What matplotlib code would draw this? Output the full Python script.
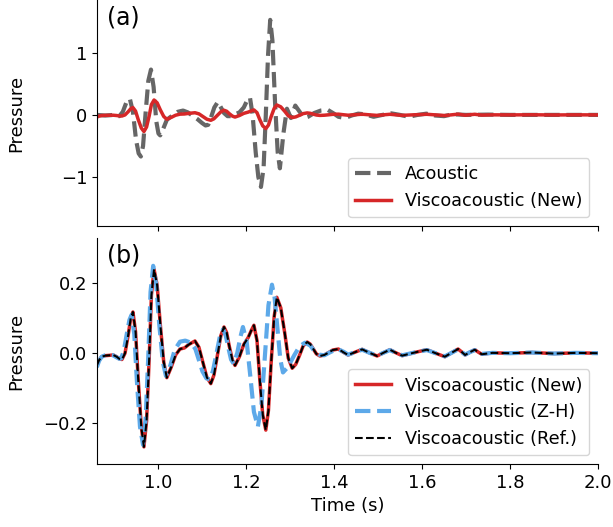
import matplotlib
matplotlib.use('Agg')
import matplotlib.pyplot as plt

plt.rcParams['font.family'] = 'DejaVu Sans'

# --- dados (tempo em s, pressão) ---
t_new = [0.861, 0.866, 0.872, 0.880, 0.890, 0.898, 0.906, 0.912, 0.918, 0.925,
         0.932, 0.938, 0.943, 0.949, 0.955, 0.962, 0.968, 0.974, 0.980, 0.985,
         0.991, 0.998, 1.005, 1.013, 1.020, 1.030, 1.040, 1.050, 1.060, 1.070,
         1.084, 1.093, 1.102, 1.111, 1.120, 1.127, 1.135, 1.143, 1.150, 1.156,
         1.162, 1.169, 1.175, 1.185, 1.195, 1.205, 1.212, 1.218, 1.225, 1.231,
         1.238, 1.245, 1.251, 1.257, 1.264, 1.270, 1.279, 1.288, 1.296, 1.305,
         1.313, 1.322, 1.330, 1.339, 1.346, 1.353, 1.360, 1.368, 1.378, 1.388,
         1.397, 1.410, 1.421, 1.432, 1.448, 1.464, 1.481, 1.498, 1.512, 1.527,
         1.541, 1.555, 1.583, 1.611, 1.631, 1.652, 1.667, 1.682, 1.690, 1.698,
         1.709, 1.720, 1.728, 1.736, 1.76, 1.80, 1.85, 1.90, 1.95, 2.00]
p_new = [-0.035, -0.020, -0.010, -0.007, -0.006, -0.005, -0.010, -0.016, -0.018, 0.000,
         0.050, 0.100, 0.118, 0.061, -0.075, -0.211, -0.268, -0.194, -0.014, 0.166,
         0.240, 0.195, 0.085, -0.025, -0.070, -0.040, -0.005, 0.012, 0.015, 0.025,
         0.035, 0.017, -0.026, -0.069, -0.087, -0.063, -0.006, 0.051, 0.075, 0.059,
         0.020, -0.019, -0.035, -0.010, 0.025, 0.045, 0.065, 0.080, 0.036, -0.070,
         -0.176, -0.220, -0.164, -0.030, 0.104, 0.160, 0.130, 0.058, -0.014, -0.043,
         -0.032, -0.005, 0.021, 0.032, 0.026, 0.012, -0.002, -0.008, -0.005, 0.002,
         0.009, 0.012, 0.003, -0.005, 0.003, 0.011, 0.001, -0.008, 0.001, 0.010,
         0.001, -0.007, 0.002, 0.010, 0.000, -0.010, 0.001, 0.012, 0.004, -0.005,
         0.003, 0.010, 0.003, -0.003, 0.001, 0.000, 0.002, -0.001, 0.001, 0.000]

t_zh = [0.861, 0.866, 0.872, 0.880, 0.890, 0.898, 0.906, 0.912, 0.916, 0.922,
        0.929, 0.935, 0.940, 0.946, 0.952, 0.959, 0.966, 0.972, 0.978, 0.983,
        0.989, 0.996, 1.003, 1.011, 1.018, 1.028, 1.038, 1.050, 1.062, 1.075,
        1.085, 1.093, 1.101, 1.110, 1.118, 1.125, 1.133, 1.141, 1.148, 1.154,
        1.160, 1.166, 1.172, 1.180, 1.187, 1.193, 1.2015, 1.210, 1.218, 1.227,
        1.235, 1.243, 1.251, 1.259, 1.265, 1.2715, 1.278, 1.284, 1.295, 1.310,
        1.322, 1.334, 1.346, 1.356, 1.366, 1.378, 1.390, 1.400, 1.412, 1.422,
        1.432, 1.448, 1.464, 1.481, 1.498, 1.512, 1.527, 1.541, 1.555, 1.583,
        1.611, 1.631, 1.652, 1.667, 1.682, 1.690, 1.698, 1.709, 1.720, 1.728,
        1.736, 1.76, 1.80, 1.85, 1.90, 1.95, 2.00]
p_zh = [-0.040, -0.022, -0.010, -0.006, -0.005, -0.006, -0.012, -0.016, -0.015, 0.005,
        0.055, 0.095, 0.110, 0.055, -0.080, -0.210, -0.262, -0.185, -0.005, 0.175,
        0.250, 0.195, 0.080, -0.025, -0.065, -0.035, 0.010, 0.033, 0.036, 0.030,
        0.012, -0.020, -0.052, -0.072, -0.075, -0.050, 0.000, 0.050, 0.068, 0.050,
        0.015, -0.018, -0.030, 0.000, 0.045, 0.075, 0.033, -0.068, -0.168, -0.210,
        -0.150, -0.007, 0.137, 0.196, 0.159, 0.070, -0.018, -0.055, -0.040, -0.005,
        0.020, 0.030, 0.022, 0.005, -0.004, -0.006, 0.002, 0.008, 0.010, 0.004,
        -0.004, 0.003, 0.010, 0.001, -0.007, 0.001, 0.009, 0.001, -0.006, 0.002,
        0.009, 0.000, -0.009, 0.001, 0.011, 0.004, -0.004, 0.003, 0.009, 0.003,
        -0.002, 0.001, 0.000, 0.002, -0.001, 0.001, 0.000]

# a solução de referência coincide com a nova
t_ref = list(t_new)
p_ref = list(p_new)

t_ac = [0.861, 0.880, 0.900, 0.912, 0.920, 0.928, 0.936, 0.943, 0.950, 0.956,
        0.961, 0.966, 0.972, 0.978, 0.984, 0.990, 0.996, 1.001, 1.005, 1.012,
        1.020, 1.027, 1.035, 1.045, 1.057, 1.068, 1.080, 1.090, 1.100, 1.108,
        1.114, 1.120, 1.128, 1.136, 1.143, 1.150, 1.158, 1.166, 1.175, 1.185,
        1.195, 1.203, 1.209, 1.215, 1.222, 1.228, 1.234, 1.240, 1.245, 1.250,
        1.255, 1.260, 1.266, 1.272, 1.277, 1.285, 1.293, 1.302, 1.312, 1.322,
        1.332, 1.341, 1.355, 1.370, 1.386, 1.400, 1.410, 1.425, 1.440, 1.455,
        1.470, 1.490, 1.510, 1.530, 1.550, 1.570, 1.590, 1.610, 1.630, 1.650,
        1.670, 1.700, 1.750, 1.800, 1.900, 2.000]
p_ac = [0.00, -0.01, 0.00, -0.02, 0.05, 0.20, 0.26, 0.05, -0.40, -0.62,
        -0.67, -0.50, 0.05, 0.55, 0.73, 0.45, -0.10, -0.30, -0.33, -0.22,
        -0.08, -0.04, 0.00, 0.05, 0.07, 0.04, -0.02, -0.07, -0.13, -0.17,
        -0.16, -0.05, 0.12, 0.21, 0.12, 0.03, -0.02, -0.02, 0.01, 0.04,
        0.12, 0.24, 0.28, 0.00, -0.60, -1.00, -1.16, -0.85, 0.00, 0.95,
        1.53, 1.20, 0.20, -0.60, -0.86, -0.30, 0.10, -0.05, 0.15, 0.05,
        -0.05, -0.03, 0.03, 0.07, 0.08, 0.02, -0.03, -0.05, -0.01, 0.02,
        0.01, -0.03, 0.00, 0.025, 0.00, -0.03, 0.00, 0.02, -0.01, -0.02,
        0.01, 0.00, 0.005, 0.00, 0.00, 0.00]

x_ticks = [1.0, 1.2, 1.4, 1.6, 1.8, 2.0]
ya_ticks = [-1, 0, 1]
yb_ticks = [-0.2, 0.0, 0.2]

cor_cinza = '#666666'
cor_vermelho = '#d62728'
cor_azul = '#5da9e9'

fig = plt.figure(figsize=(6.13, 5.27), dpi=100)
ax1 = fig.add_axes([0.158, 0.571, 0.8175, 0.429])
ax2 = fig.add_axes([0.158, 0.1195, 0.8175, 0.4285], sharex=ax1)

# painel (a)
ax1.plot(t_ac, p_ac, color=cor_cinza, lw=3, ls='--', label='Acoustic')
ax1.plot(t_new, p_new, color=cor_vermelho, lw=2.5, label='Viscoacoustic (New)')
ax1.set_ylim(-1.79, 1.85)
ax1.set_yticks(ya_ticks)
ax1.set_ylabel('Pressure', fontsize=13)
ax1.tick_params(labelbottom=False)
ax1.text(0.02, 0.975, '(a)', transform=ax1.transAxes, fontsize=17, va='top')
ax1.legend(loc='lower right', fontsize=12.7, handlelength=2.0)

# painel (b)
ax2.plot(t_new, p_new, color=cor_vermelho, lw=2.5, label='Viscoacoustic (New)')
ax2.plot(t_zh, p_zh, color=cor_azul, lw=3, ls='--', label='Viscoacoustic (Z-H)')
ax2.plot(t_ref, p_ref, color='black', lw=1.5, ls='--', label='Viscoacoustic (Ref.)')
ax2.set_ylim(-0.317, 0.329)
ax2.set_yticks(yb_ticks)
ax2.set_ylabel('Pressure', fontsize=13)
ax2.set_xlabel('Time (s)', fontsize=13)
ax2.text(0.02, 0.975, '(b)', transform=ax2.transAxes, fontsize=17, va='top')
ax2.legend(loc='lower right', fontsize=12.7, handlelength=2.0)

ax2.set_xlim(0.861, 2.0)
ax2.set_xticks(x_ticks)

for ax in (ax1, ax2):
    ax.spines['top'].set_visible(False)
    ax.spines['right'].set_visible(False)
    ax.tick_params(labelsize=13)
    ax.yaxis.set_label_coords(-0.142, 0.5)

fig.savefig('out.png', dpi=100)
